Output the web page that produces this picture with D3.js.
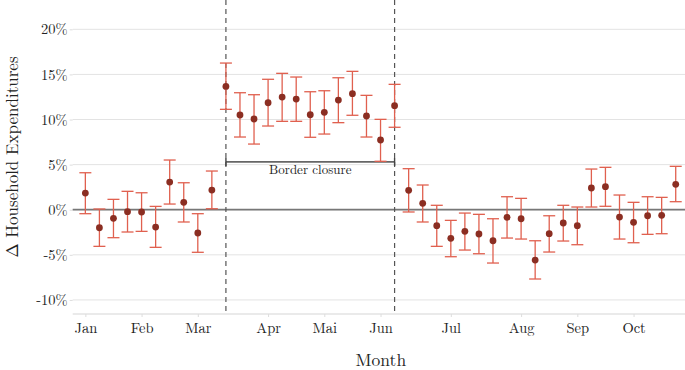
<!DOCTYPE html>
<html>
<head>
<meta charset="utf-8">
<script src="https://cdn.jsdelivr.net/npm/d3@7"></script>
<style>
	body { margin: 0; background: #fff; }
	svg text { font-family: "Latin Modern Roman", "CMU Serif", "Liberation Serif", serif; fill: #222; }
</style>
</head>
<body>
<svg id="chart" width="685" height="370"></svg>
<script>
// weekly estimates, week 0 = first week of January
let estimates = [1.85, -2.0, -0.95, -0.22, -0.25, -1.92, 3.07, 0.82, -2.58, 2.18,
	13.67, 10.5, 10.06, 11.86, 12.49, 12.27, 10.53, 10.8, 12.16, 12.86, 10.39, 7.73, 11.53,
	2.15, 0.71, -1.77, -3.17, -2.4, -2.69, -3.44, -0.84, -1.0, -5.58, -2.66, -1.47, -1.77,
	2.41, 2.55, -0.81, -1.4, -0.67, -0.62, 2.82];
let upper = [4.1, 0.08, 1.15, 2.04, 1.88, 0.37, 5.51, 2.99, -0.44, 4.29,
	16.26, 12.97, 12.75, 14.46, 15.12, 14.71, 13.08, 13.19, 14.63, 15.34, 12.68, 10.02, 13.9,
	4.55, 2.74, 0.49, -1.18, -0.37, -0.51, -1.0, 1.44, 1.26, -3.44, -0.67, 0.49, 0.3,
	4.51, 4.7, 1.63, 0.82, 1.44, 1.37, 4.81];
let lower = [-0.44, -4.06, -3.1, -2.47, -2.4, -4.17, 0.63, -1.36, -4.72, 0.11,
	11.13, 8.06, 7.28, 9.28, 9.8, 9.8, 8.03, 8.39, 9.65, 10.47, 8.06, 5.37, 9.14,
	-0.25, -1.36, -4.06, -5.21, -4.47, -4.88, -5.91, -3.14, -3.25, -7.68, -4.69, -3.47, -3.88,
	0.3, 0.38, -3.25, -3.66, -2.73, -2.66, 0.89];

let monthLabels = ["Jan", "Feb", "Mar", "Apr", "Mai", "Jun", "Jul", "Aug", "Sep", "Oct"];
let monthWeeks = [0, 4, 8, 13, 17, 21, 26, 31, 35, 39];
let yTicks = [-10, -5, 0, 5, 10, 15, 20];
let closure = [10, 22];
let closureLevel = 5.3;

let data = estimates.map((e, i) => ({"week": i, "est": e, "hi": upper[i], "lo": lower[i]}));

let width = 685;
let height = 370;
let margin = {"left": 72.7, "top": 0, "bottom": 56, "right": 0};

let scaleX = d3.scaleLinear()
	.domain([-0.9, 42.66])
	.range([margin.left, width - margin.right]);

let scaleY = d3.scaleLinear()
	.domain([-11.56, 23.25])
	.range([height - margin.bottom, margin.top]);

let svg = d3.select("#chart");

// grid
svg.append("g").attr("class", "grid")
	.selectAll("line")
	.data(yTicks)
	.join("line")
	.attr("x1", margin.left)
	.attr("x2", width - margin.right)
	.attr("y1", d => scaleY(d))
	.attr("y2", d => scaleY(d))
	.attr("stroke", "#e3e3e3")
	.attr("stroke-width", 1);

// axis base line
svg.append("line")
	.attr("x1", margin.left).attr("x2", width - margin.right)
	.attr("y1", scaleY.range()[0]).attr("y2", scaleY.range()[0])
	.attr("stroke", "#e3e3e3").attr("stroke-width", 1.5);

// y axis
let axisY = svg.append("g")
	.attr("transform", "translate(" + margin.left + ",0)")
	.call(d3.axisLeft(scaleY).tickValues(yTicks).tickSize(3).tickPadding(2).tickFormat(d => d + "%"));
axisY.select(".domain").remove();
axisY.selectAll(".tick line").attr("stroke", "#ddd");
axisY.selectAll(".tick text").attr("font-size", 14.5).style("fill", "#222");

// x axis
let axisX = svg.append("g")
	.attr("transform", "translate(0," + scaleY.range()[0] + ")")
	.call(d3.axisBottom(scaleX).tickValues(monthWeeks).tickSize(3).tickPadding(6).tickFormat((d, i) => monthLabels[i]));
axisX.select(".domain").remove();
axisX.selectAll(".tick line").attr("stroke", "#ddd");
axisX.selectAll(".tick text").attr("font-size", 14.5).style("fill", "#222");

// zero line
svg.append("line")
	.attr("x1", margin.left).attr("x2", width - margin.right)
	.attr("y1", scaleY(0)).attr("y2", scaleY(0))
	.attr("stroke", "#777").attr("stroke-width", 1.8);

// border closure dashed lines
svg.append("g")
	.selectAll("line")
	.data(closure)
	.join("line")
	.attr("x1", d => scaleX(d)).attr("x2", d => scaleX(d))
	.attr("y1", 0).attr("y2", scaleY.range()[0])
	.attr("stroke", "#555")
	.attr("stroke-width", 1.2)
	.attr("stroke-dasharray", "5,4");

// bracket
let bracket = svg.append("g").attr("class", "bracket");
bracket.append("line")
	.attr("x1", scaleX(closure[0])).attr("x2", scaleX(closure[1]))
	.attr("y1", scaleY(closureLevel)).attr("y2", scaleY(closureLevel))
	.attr("stroke", "#666").attr("stroke-width", 1.6);
bracket.selectAll("line.end")
	.data(closure)
	.join("line")
	.attr("class", "end")
	.attr("x1", d => scaleX(d)).attr("x2", d => scaleX(d))
	.attr("y1", scaleY(closureLevel) - 4).attr("y2", scaleY(closureLevel) + 4)
	.attr("stroke", "#444").attr("stroke-width", 1.4);
bracket.append("text")
	.attr("x", scaleX((closure[0] + closure[1]) / 2))
	.attr("y", scaleY(closureLevel) + 12)
	.attr("text-anchor", "middle")
	.attr("font-size", 13)
	.text("Border closure");

// error bars
let capHalf = 6;
let bars = svg.append("g").attr("class", "errorbars")
	.selectAll("g")
	.data(data)
	.join("g")
	.attr("stroke", "#e0604f")
	.attr("stroke-width", 1.3);
bars.append("line")
	.attr("x1", d => scaleX(d.week)).attr("x2", d => scaleX(d.week))
	.attr("y1", d => scaleY(d.hi)).attr("y2", d => scaleY(d.lo));
bars.append("line")
	.attr("x1", d => scaleX(d.week) - capHalf).attr("x2", d => scaleX(d.week) + capHalf)
	.attr("y1", d => scaleY(d.hi)).attr("y2", d => scaleY(d.hi));
bars.append("line")
	.attr("x1", d => scaleX(d.week) - capHalf).attr("x2", d => scaleX(d.week) + capHalf)
	.attr("y1", d => scaleY(d.lo)).attr("y2", d => scaleY(d.lo));

// points
svg.append("g").attr("class", "points")
	.selectAll("circle")
	.data(data)
	.join("circle")
	.attr("cx", d => scaleX(d.week))
	.attr("cy", d => scaleY(d.est))
	.attr("r", 3.4)
	.attr("fill", "#8b2e22");

// axis titles
svg.append("text")
	.attr("transform", "translate(18," + scaleY((scaleY.domain()[0] + scaleY.domain()[1]) / 2) + ") rotate(-90)")
	.attr("text-anchor", "middle")
	.attr("font-size", 17)
	.text("Δ Household Expenditures");

svg.append("text")
	.attr("x", (margin.left + width) / 2 + 2)
	.attr("y", 366)
	.attr("text-anchor", "middle")
	.attr("font-size", 17.5)
	.text("Month");
</script>
</body>
</html>
